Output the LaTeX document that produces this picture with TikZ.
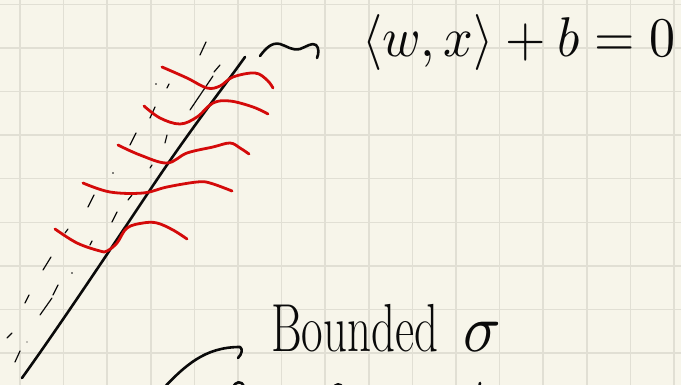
\documentclass[tikz,border=0pt]{standalone}
\usepackage{amsmath}
\definecolor{paper}{HTML}{F7F5EA}
\definecolor{gridc}{HTML}{E1DFD4}
\definecolor{ink}{HTML}{0A0A0A}
\definecolor{redink}{HTML}{D40A0A}
\tikzset{
  gridline/.style={draw=gridc, line width=1.5pt},
  mainline/.style={draw=ink, line width=2.6pt, line cap=round, line join=round},
  dashstroke/.style={draw=ink, line width=1.2pt, line cap=round},
  redwave/.style={draw=redink, line width=2.8pt, line cap=round, line join=round},
  pen/.style={draw=ink, line width=2.6pt, line cap=round, line join=round},
  handtext/.style={text=ink, inner sep=0pt, outer sep=0pt}
}
\begin{document}
\begin{tikzpicture}[x=1pt,y=-1pt]
\fill[paper] (0,0) rectangle (681,385);
\useasboundingbox (0,0) rectangle (681,385);
% grid
\foreach \i in {0,...,15} {\draw[gridline] ({20+43.6*\i},0) -- ({20+43.6*\i},385);}
\foreach \j in {0,...,8} {\draw[gridline] (0,{4.3+43.6*\j}) -- (681,{4.3+43.6*\j});}
% main hyperplane line
\coordinate (hb) at (22,378);
\coordinate (ht) at (245,57);
\draw[mainline] (hb) .. controls (60,325) and (110,250) .. (150,190) .. controls (190,130) and (220,92) .. (ht);
% dashed strokes (near line)
\foreach \a/\b in {{(15,362)}/{(20,351)}, {(40,315)}/{(52,298)}, {(53,295)}/{(58,285)}, {(90,245)}/{(92,241)},
  {(112,222)}/{(117,212)}, {(128,200)}/{(132,195)}, {(150,168)}/{(152,165)}, {(165,143)}/{(167,135)},
  {(190,110)}/{(213,76)}, {(214,72)}/{(220,65)}} {\draw[dashstroke] \a -- \b;}
% dashed strokes (far line)
\foreach \a/\b in {{(7,338)}/{(12,333)}, {(25,303)}/{(29,295)}, {(43,270)}/{(51,257)}, {(65,233)}/{(68,229)},
  {(88,207)}/{(94,195)}, {(130,145)}/{(136,133)}, {(150,118)}/{(155,107)}, {(167,88)}/{(169,84)},
  {(200,55)}/{(206,42)}} {\draw[dashstroke] \a -- \b;}
\fill[ink] (72,273) circle (0.8) (113,173) circle (0.8) (156,84) circle (0.8) (27,342) circle (0.7);
% red wavy curves
\draw[redwave] plot[smooth, tension=0.6] coordinates {(162,67) (187,78) (207,88) (220,86) (233,77) (255,73) (267,80) (273,88)};
\draw[redwave] plot[smooth, tension=0.6] coordinates {(144,106) (160,118) (180,124) (197,117) (213,103) (230,101) (253,107) (268,114)};
\draw[redwave] plot[smooth, tension=0.6] coordinates {(118,145) (140,155) (167,163) (187,153) (213,147) (230,143) (240,148) (249,154)};
\draw[redwave] plot[smooth, tension=0.6] coordinates {(83,183) (110,192) (143,193) (167,187) (197,182) (210,183) (232,191)};
\draw[redwave] plot[smooth, tension=0.6] coordinates {(55,229) (77,243) (100,251) (107,251) (117,243) (127,228) (143,223) (157,223) (173,230) (187,239)};
% equation label
\node[handtext, anchor=base west] (eq) at (362,57) {\scalebox{5.2}[5.6]{$\langle w, x\rangle + b = 0$}};
% squiggle arrow to equation
\coordinate (sq0) at (260,56);
\draw[pen] (sq0) .. controls (266,48) and (272,42) .. (280,44) .. controls (287,46) and (292,51) .. (300,49)
  .. controls (306,47) and (312,42) .. (316,45) .. controls (319,48) and (319,53) .. (317,58);
% Bounded sigma label
\node[handtext, anchor=base west] (bd) at (271,352) {\scalebox{0.69}[1]{\fontsize{68}{70}\selectfont Bounded}};
\node[handtext, anchor=base west] (sig) at (463,351) {\scalebox{6.2}[6.8]{$\sigma$}};
% bottom arrow to Bounded
\coordinate (ba) at (160,392);
\draw[pen] (ba) .. controls (185,365) and (205,347) .. (240,347) .. controls (243,349) and (242,354) .. (238,358);
% cut-off fragments at the bottom edge
\draw[pen] (233,388) .. controls (235,381) and (242,380) .. (244,387);
\draw[pen] (333,389) .. controls (335,383) and (341,383) .. (343,388);
\draw[pen] (479,388) -- (480,383);
\end{tikzpicture}
\end{document}
